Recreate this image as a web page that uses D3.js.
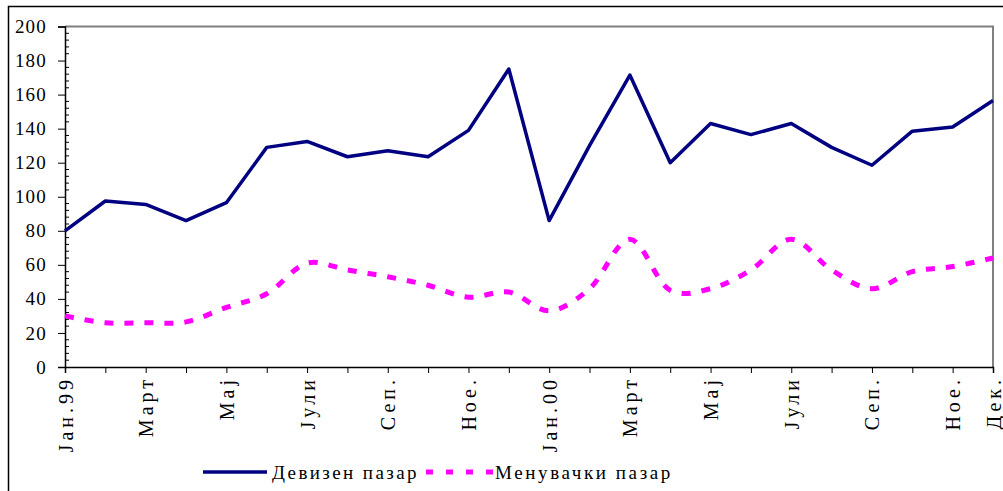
<!DOCTYPE html>
<html>
<head>
<meta charset="utf-8">
<script src="https://cdn.jsdelivr.net/npm/d3@7"></script>
<style>
  body { margin: 0; background: #fff; }
</style>
</head>
<body>
<div id="chart"></div>
<script>
// Months (24), only some carry a label
const months = ["Јан.99", "", "Март", "", "Мај", "", "Јули", "", "Сеп.", "", "Ное.", "",
                "Јан.00", "", "Март", "", "Мај", "", "Јули", "", "Сеп.", "", "Ное.", "Дек."];
const devizen = [80, 97.5, 95.5, 86, 96.5, 129, 132.5, 123.5, 127, 123.5, 139, 175,
                 86, 130, 171.5, 120, 143, 136.5, 143, 129, 118.5, 138.5, 141, 156.5];
const menuvacki = [30, 26, 26, 26.5, 35, 43, 61, 57, 53, 48, 41, 44,
                   33, 46, 75, 45, 46, 57, 75, 57, 46, 56, 59, 64];
const yTicks = [0, 20, 40, 60, 80, 100, 120, 140, 160, 180, 200];
const seriesNames = ["Девизен пазар", "Менувачки пазар"];

const serif = "'Liberation Serif', 'DejaVu Serif', serif";
const W = 1003, H = 491;
const margin = { top: 26.5, right: 10, bottom: 124, left: 65 };
const width = W - margin.left - margin.right;
const height = H - margin.top - margin.bottom;

const svg = d3.select("#chart").append("svg")
    .attr("width", W)
    .attr("height", H)
    .style("font-family", serif);

// outer frame (top and left visible)
svg.append("path")
    .attr("d", `M8.5,${H} L8.5,6.5 L${W},6.5`)
    .attr("fill", "none")
    .attr("stroke", "#000")
    .attr("stroke-width", 1.5);

const g = svg.append("g")
    .attr("transform", `translate(${margin.left},${margin.top})`);

const x = d3.scalePoint().domain(d3.range(months.length)).range([0, width]);
const y = d3.scaleLinear().domain([0, 200]).range([height, 0]);

// plot area top/right border
g.append("path")
    .attr("d", `M0,0 L${width},0 L${width},${height}`)
    .attr("fill", "none")
    .attr("stroke", "#808080")
    .attr("stroke-width", 2);

// y axis
const yAxis = g.append("g")
    .call(d3.axisLeft(y).tickValues(yTicks).tickSize(7).tickPadding(11));
// minor ticks every 4 units, inside
g.append("g")
    .selectAll("line")
    .data(d3.range(0, 201, 4).filter(v => v % 20 !== 0))
    .enter().append("line")
    .attr("x1", 0).attr("x2", 4)
    .attr("y1", d => y(d)).attr("y2", d => y(d))
    .attr("stroke", "#000");

yAxis.attr("font-family", serif);
yAxis.select(".domain").attr("stroke-width", 1.5);
yAxis.selectAll("text")
    .style("font-family", serif)
    .style("font-size", "19px")
    .style("letter-spacing", "1.2px");

// x axis
const xAxis = g.append("g")
    .attr("transform", `translate(0,${height})`)
    .call(d3.axisBottom(x).tickSize(6).tickFormat(i => months[i]));
xAxis.attr("font-family", serif);
xAxis.select(".domain").attr("stroke-width", 1.5);
xAxis.selectAll("text")
    .style("font-family", serif)
    .style("font-size", "20px")
    .style("letter-spacing", "4px")
    .attr("text-anchor", "end")
    .attr("transform", "rotate(-90)")
    .attr("x", -9)
    .attr("y", 0)
    .attr("dy", "0.35em");

// lines
g.append("path")
    .attr("d", d3.line().x((d, i) => x(i)).y(d => y(d)).curve(d3.curveCatmullRom.alpha(0.3))(menuvacki))
    .attr("fill", "none")
    .attr("stroke", "#ff00ff")
    .attr("stroke-width", 5)
    .attr("stroke-dasharray", "9,11");

g.append("path")
    .attr("d", d3.line().x((d, i) => x(i)).y(d => y(d))(devizen))
    .attr("fill", "none")
    .attr("stroke", "#000080")
    .attr("stroke-width", 3.5)
    .attr("stroke-linejoin", "round");

// legend
const legend = svg.append("g").attr("transform", "translate(0,472)");
legend.append("line")
    .attr("x1", 203).attr("x2", 267).attr("y1", 0).attr("y2", 0)
    .attr("stroke", "#000080").attr("stroke-width", 3.5);
legend.append("text")
    .attr("x", 272).attr("y", 0).attr("dy", "0.35em")
    .style("font-family", serif)
    .style("font-size", "19px")
    .style("letter-spacing", "2.4px")
    .text(seriesNames[0]);
legend.append("line")
    .attr("x1", 426).attr("x2", 493).attr("y1", 0).attr("y2", 0)
    .attr("stroke", "#ff00ff").attr("stroke-width", 5)
    .attr("stroke-dasharray", "7,13");
legend.append("text")
    .attr("x", 495).attr("y", 0).attr("dy", "0.35em")
    .style("font-family", serif)
    .style("font-size", "19px")
    .style("letter-spacing", "2.6px")
    .text(seriesNames[1]);
</script>
</body>
</html>
